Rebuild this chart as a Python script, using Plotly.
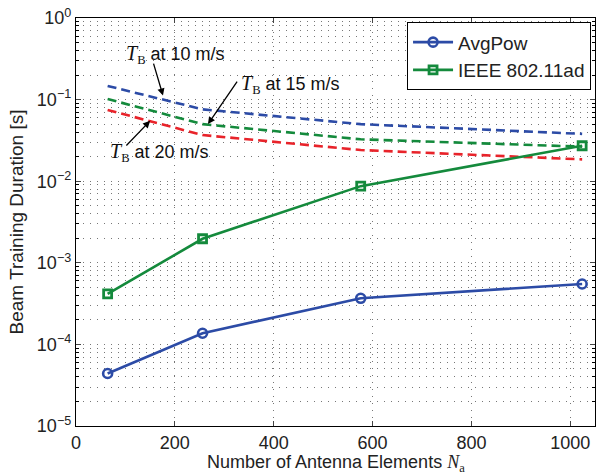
import plotly.graph_objects as go

# ---- data ----
n_antennas = [64, 256, 576, 1024]
avgpow = [4.4e-5, 1.37e-4, 3.67e-4, 5.5e-4]
ieee = [4.15e-4, 1.97e-3, 8.7e-3, 2.72e-2]
tb_10 = [0.147, 0.076, 0.050, 0.038]
tb_15 = [0.1016, 0.050, 0.0326, 0.0265]
tb_20 = [0.0746, 0.0368, 0.0241, 0.0185]

ytick_vals = [1e-5, 1e-4, 1e-3, 1e-2, 1e-1, 1]
ytick_text = ["10<sup>−5</sup>", "10<sup>−4</sup>", "10<sup>−3</sup>",
              "10<sup>−2</sup>", "10<sup>−1</sup>", "10<sup>0</sup>"]
xtick_vals = [0, 200, 400, 600, 800, 1000]

BLUE = "#2C4BA6"
GREEN = "#148A3C"
RED = "#E8232A"
SANS = "Liberation Sans"
SERIF = "Liberation Serif"

fig = go.Figure()

# dashed T_B lines (no legend)
for vals, col in [(tb_10, BLUE), (tb_15, GREEN), (tb_20, RED)]:
    fig.add_trace(go.Scatter(x=n_antennas, y=vals, mode="lines",
                             line=dict(color=col, width=2.6, dash="9px,5px"),
                             showlegend=False, hoverinfo="skip"))

fig.add_trace(go.Scatter(x=n_antennas, y=avgpow, mode="lines+markers", name="AvgPow",
                         line=dict(color=BLUE, width=2.6),
                         marker=dict(symbol="circle-open", size=9,
                                     line=dict(color=BLUE, width=2.6))))
fig.add_trace(go.Scatter(x=n_antennas, y=ieee, mode="lines+markers", name="IEEE 802.11ad",
                         line=dict(color=GREEN, width=2.6),
                         marker=dict(symbol="square-open", size=8,
                                     line=dict(color=GREEN, width=2.8))))


def tb_label(speed):
    return (f'<span style="font-family:{SERIF};font-size:20px"><i>T</i></span>'
            f'<span style="font-family:{SERIF}"><sub>B</sub></span>'
            f' at {speed} m/s')


def arrow(hx, hy, tx, ty):
    fig.add_annotation(x=hx, y=hy, xref="x", yref="y", text="", showarrow=True,
                       arrowhead=2, arrowsize=1.1, arrowwidth=1.3, arrowcolor="black",
                       ax=tx, ay=ty, axref="x", ayref="y")


def label(x, y, speed):
    fig.add_annotation(x=x, y=y, xref="x", yref="y", text=tb_label(speed),
                       showarrow=False, xanchor="left", yanchor="middle",
                       font=dict(family=SANS, size=18, color="#111"))


arrow(176, -0.95, 156, -0.54)
label(97, -0.45, 10)
arrow(267, -1.30, 328, -0.76)
label(330, -0.82, 15)
arrow(150, -1.26, 99, -1.58)
label(65, -1.65, 20)

# x-axis title as a paper annotation (keeps clear of tick labels)
fig.add_annotation(x=0.5, y=-0.091, xref="paper", yref="paper", showarrow=False,
                   xanchor="center", yanchor="middle",
                   text=f'Number of Antenna Elements <span style="font-family:{SERIF}"><i>N</i><sub>a</sub></span>',
                   font=dict(family=SANS, size=18, color="#222"))

grid_col = "#777777"
fig.update_layout(
    width=597, height=474,
    margin=dict(l=76, r=2, t=18, b=48),
    paper_bgcolor="white", plot_bgcolor="white",
    font=dict(family=SANS, size=18, color="#222"),
    legend=dict(x=0.992, y=0.99, xanchor="right", yanchor="top",
                bordercolor="black", borderwidth=1.2, bgcolor="white",
                font=dict(family=SANS, size=19, color="#222"),
                itemwidth=40, tracegroupgap=0),
    xaxis=dict(range=[0, 1050], tickvals=xtick_vals, ticks="inside", ticklen=5,
               showline=True, linecolor="black", linewidth=1.3, mirror="ticks",
               showgrid=True, gridcolor=grid_col, griddash="1px,6px", gridwidth=1,
               zeroline=False, tickfont=dict(size=18, color="#222")),
    yaxis=dict(type="log", range=[-5, 0], tickvals=ytick_vals, ticktext=ytick_text,
               ticks="inside", ticklen=5,
               showline=True, linecolor="black", linewidth=1.3, mirror="ticks",
               showgrid=True, gridcolor=grid_col, griddash="1px,6px", gridwidth=1,
               zeroline=False, tickfont=dict(size=18, color="#222"),
               minor=dict(dtick="D1", showgrid=True, gridcolor=grid_col, griddash="1px,6px",
                          gridwidth=1, ticks="inside", ticklen=3, tickcolor="black"),
               title=dict(text="Beam Training Duration [s]",
                          font=dict(size=19, color="#222"), standoff=8)),
)

fig.write_html("out.html")
